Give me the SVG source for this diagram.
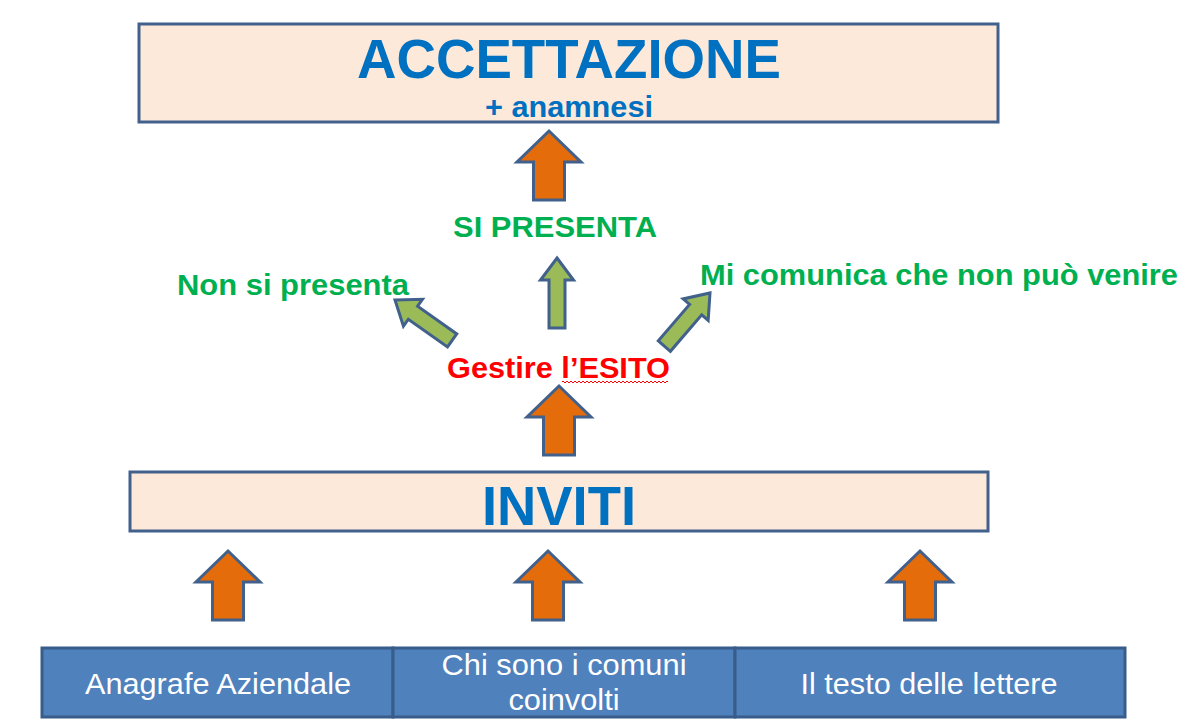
<svg xmlns="http://www.w3.org/2000/svg" xmlns:xlink="http://www.w3.org/1999/xlink" width="1193" height="727" viewBox="0 0 1193 727">
<style>
.box{fill:#fde9d9;stroke:#41618c;stroke-width:3}
.bbox{fill:#4f81bd;stroke:#385d8a;stroke-width:3}
.big{font-family:"Liberation Sans",Arial,sans-serif;font-weight:bold;fill:#0070c0;text-anchor:middle}
.g{font-family:"Liberation Sans",Arial,sans-serif;font-weight:bold;fill:#00b050;font-size:30px}
.r{font-family:"Liberation Sans",Arial,sans-serif;font-weight:bold;fill:#ff0000;font-size:30px}
.w{font-family:"Liberation Sans",Arial,sans-serif;fill:#ffffff;font-size:30px;text-anchor:middle}
.oa{fill:#e46c0a;stroke:#41618c;stroke-width:3;stroke-linejoin:miter}
.ga{fill:#9bbb59;stroke:#41618c;stroke-width:3;stroke-linejoin:miter}
</style>
<defs>
<polygon id="orange" points="0,0 32,31 15.5,31 15.5,69 -15.5,69 -15.5,31 -32,31"/>
<polygon id="green" points="0,0 16.5,22 8,22 8,70 -8,70 -8,22 -16.5,22"/>
</defs>
<rect width="1193" height="727" fill="#ffffff"/>
<g id="accettazione">
<rect class="box" x="139" y="24" width="859" height="98"/>
<text class="big" x="569" y="78" font-size="55" textLength="424" lengthAdjust="spacingAndGlyphs">ACCETTAZIONE</text>
<text class="big" x="569" y="117" font-size="30" textLength="168" lengthAdjust="spacingAndGlyphs">+ anamnesi</text>
</g>
<g id="si-presenta">
<text class="g" x="555" y="237" text-anchor="middle" textLength="204" lengthAdjust="spacingAndGlyphs">SI PRESENTA</text>
</g>
<g id="non-si-presenta">
<text class="g" x="177" y="295" textLength="232" lengthAdjust="spacingAndGlyphs">Non si presenta</text>
</g>
<g id="mi-comunica">
<text class="g" x="700" y="285" textLength="478" lengthAdjust="spacingAndGlyphs">Mi comunica che non può venire</text>
</g>
<g id="gestire-esito">
<text class="r" x="447" y="378" textLength="223" lengthAdjust="spacingAndGlyphs">Gestire l’ESITO</text>
<path d="M562 382 q1 -2 2 0 t2 0 t2 0 t2 0 t2 0 t2 0 t2 0 t2 0 t2 0 t2 0 t2 0 t2 0 t2 0 t2 0 t2 0 t2 0 t2 0 t2 0 t2 0 t2 0 t2 0 t2 0 t2 0 t2 0 t2 0 t2 0 t2 0 t2 0 t2 0 t2 0 t2 0 t2 0 t2 0 t2 0 t2 0 t2 0 t2 0 t2 0 t2 0 t2 0 t2 0 t2 0 t2 0 t2 0 t2 0 t2 0 t2 0 t2 0 t2 0 t2 0 t2 0 t2 0 t2 0" fill="none" stroke="#ff0000" stroke-width="1"/>
</g>
<g id="inviti">
<rect class="box" x="130" y="472" width="858" height="59"/>
<text class="big" x="559" y="525" font-size="55" textLength="154" lengthAdjust="spacingAndGlyphs">INVITI</text>
</g>
<g id="anagrafe">
<rect class="bbox" x="42" y="648" width="351" height="69"/>
<text class="w" x="218" y="694" textLength="266" lengthAdjust="spacingAndGlyphs">Anagrafe Aziendale</text>
</g>
<g id="comuni">
<rect class="bbox" x="393" y="648" width="342" height="69"/>
<text class="w" x="564" y="675" textLength="245" lengthAdjust="spacingAndGlyphs">Chi sono i comuni</text>
<text class="w" x="564" y="710" textLength="111" lengthAdjust="spacingAndGlyphs">coinvolti</text>
</g>
<g id="testo">
<rect class="bbox" x="735" y="648" width="390" height="69"/>
<text class="w" x="929" y="694" textLength="257" lengthAdjust="spacingAndGlyphs">Il testo delle lettere</text>
</g>
<g id="connectors">
<use href="#orange" xlink:href="#orange" class="oa" transform="translate(549,131)"/>
<use href="#orange" xlink:href="#orange" class="oa" transform="translate(559,386)"/>
<use href="#orange" xlink:href="#orange" class="oa" transform="translate(228,551)"/>
<use href="#orange" xlink:href="#orange" class="oa" transform="translate(548,551)"/>
<use href="#orange" xlink:href="#orange" class="oa" transform="translate(920,551)"/>
<use href="#green" xlink:href="#green" class="ga" transform="translate(557,258)"/>
<use href="#green" xlink:href="#green" class="ga" transform="translate(395,300) rotate(-54.7)"/>
<use href="#green" xlink:href="#green" class="ga" transform="translate(710,293) rotate(40.7)"/>
</g>
</svg>
